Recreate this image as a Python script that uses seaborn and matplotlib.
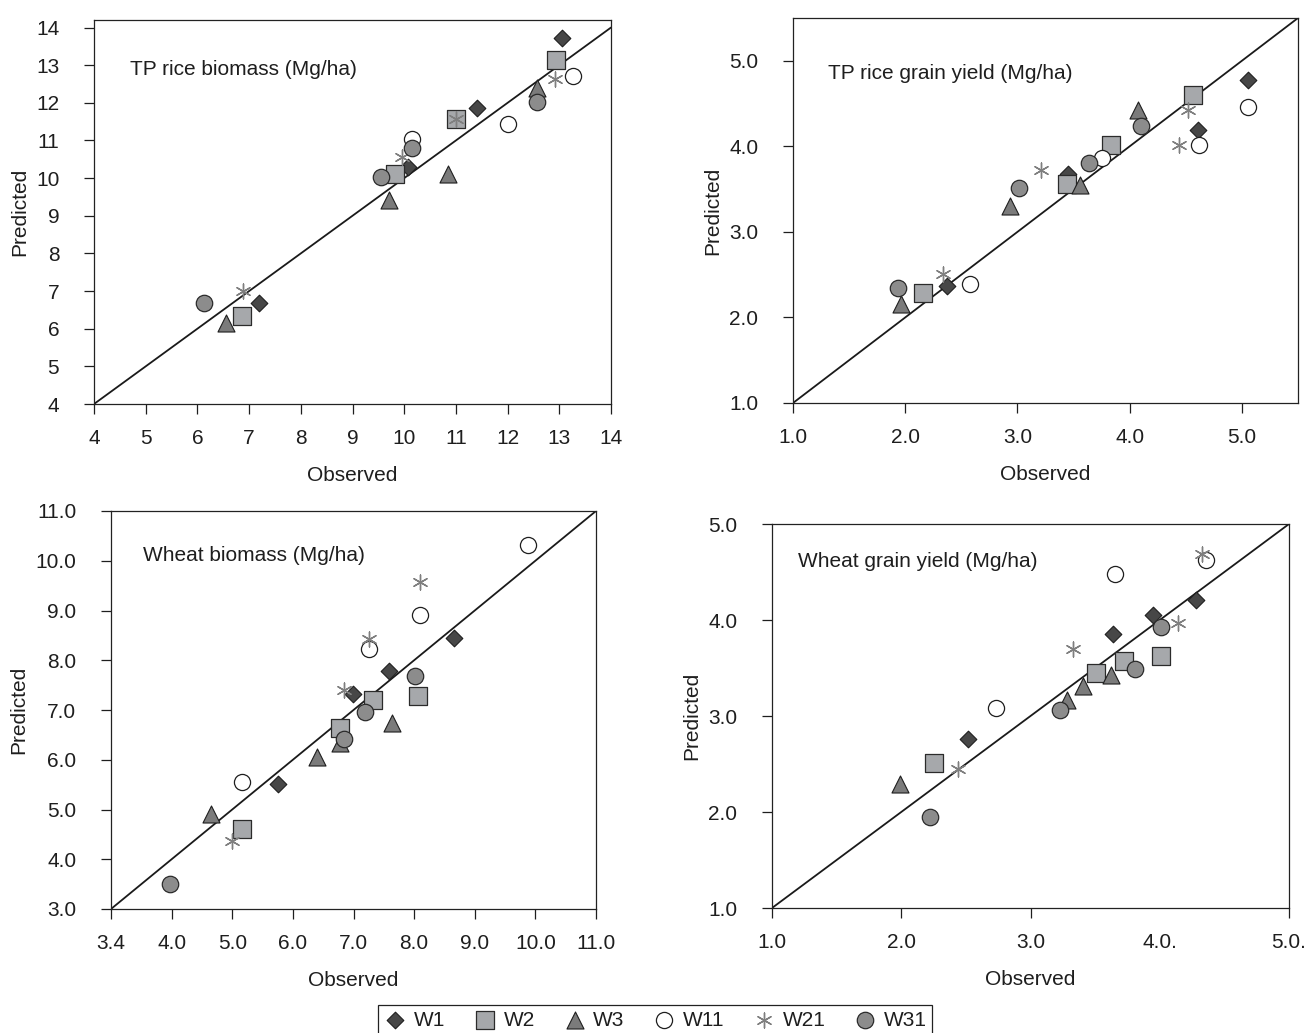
import pandas as pd
import seaborn as sns
from matplotlib import pyplot as plt

treatments = ["W1", "W2", "W3", "W11", "W21", "W31"]

# TP rice biomass (Mg/ha)
rb_trt = ["W1"] * 4 + ["W2"] * 4 + ["W3"] * 4 + ["W11"] * 3 + ["W21"] * 4 + ["W31"] * 4
rb_obs = [13.06, 11.40, 10.07, 7.19,
          12.93, 11.00, 9.82, 6.86,
          12.57, 10.84, 9.71, 6.55,
          13.27, 12.01, 10.16,
          12.92, 11.00, 9.95, 6.88,
          12.57, 10.16, 9.56, 6.13]
rb_pred = [13.73, 11.86, 10.30, 6.69,
           13.15, 11.57, 10.12, 6.35,
           12.40, 10.10, 9.41, 6.16,
           12.71, 11.44, 11.04,
           12.64, 11.57, 10.57, 7.00,
           12.01, 10.79, 10.03, 6.69]

# TP rice grain yield (Mg/ha)
rg_trt = ["W1"] * 4 + ["W2"] * 4 + ["W3"] * 4 + ["W11"] * 4 + ["W21"] * 4 + ["W31"] * 4
rg_obs = [5.05, 4.61, 3.45, 2.37,
          4.56, 3.83, 3.44, 2.16,
          4.07, 3.56, 2.93, 1.96,
          5.05, 4.62, 3.75, 2.58,
          4.52, 4.44, 3.21, 2.34,
          4.10, 3.64, 3.01, 1.94]
rg_pred = [4.78, 4.19, 3.68, 2.37,
           4.60, 4.02, 3.56, 2.29,
           4.42, 3.55, 3.30, 2.16,
           4.46, 4.01, 3.86, 2.39,
           4.43, 4.01, 3.72, 2.51,
           4.24, 3.81, 3.51, 2.35]

# Wheat biomass (Mg/ha)
wb_trt = ["W1"] * 4 + ["W2"] * 4 + ["W3"] * 4 + ["W11"] * 4 + ["W21"] * 4 + ["W31"] * 4
wb_obs = [8.65, 7.59, 6.99, 5.75,
          8.06, 7.32, 6.78, 5.16,
          7.64, 6.77, 6.40, 4.65,
          9.88, 8.09, 7.25, 5.16,
          8.09, 7.25, 6.84, 4.99,
          8.02, 7.19, 6.85, 3.98]
wb_pred = [8.45, 7.79, 7.32, 5.52,
           7.28, 7.20, 6.64, 4.61,
           6.73, 6.34, 6.06, 4.90,
           10.31, 8.91, 8.22, 5.55,
           9.57, 8.43, 7.41, 4.36,
           7.68, 6.96, 6.41, 3.51]

# Wheat grain yield (Mg/ha)
wg_trt = ["W1"] * 4 + ["W2"] * 4 + ["W3"] * 4 + ["W11"] * 3 + ["W21"] * 4 + ["W31"] * 4
wg_obs = [4.28, 3.95, 3.64, 2.52,
          4.01, 3.72, 3.51, 2.25,
          3.62, 3.41, 3.28, 1.99,
          4.36, 3.65, 2.73,
          4.33, 4.14, 3.33, 2.44,
          4.01, 3.81, 3.23, 2.22]
wg_pred = [4.21, 4.05, 3.85, 2.76,
           3.63, 3.57, 3.45, 2.51,
           3.43, 3.31, 3.17, 2.29,
           4.63, 4.48, 3.08,
           4.69, 3.97, 3.70, 2.45,
           3.93, 3.49, 3.06, 1.95]

# tick labels (as printed in the figure)
rb_ticks = list(range(4, 15))
rb_labels = [str(t) for t in rb_ticks]
rg_ticks = [1, 2, 3, 4, 5]
rg_labels = ["1.0", "2.0", "3.0", "4.0", "5.0"]
wb_ticks = list(range(3, 12))
wb_xlabels = ["3.4", "4.0", "5.0", "6.0", "7.0", "8.0", "9.0", "10.0", "11.0"]
wb_ylabels = ["3.0", "4.0", "5.0", "6.0", "7.0", "8.0", "9.0", "10.0", "11.0"]
wg_ticks = [1, 2, 3, 4, 5]
wg_xlabels = ["1.0", "2.0", "3.0", "4.0.", "5.0."]
wg_ylabels = ["1.0", "2.0", "3.0", "4.0", "5.0"]

styles = {
    "W1": dict(marker="D", s=72, color="#474747", edgecolor="#1e1e1e", linewidth=0.8),
    "W2": dict(marker="s", s=160, color="#a6a8ab", edgecolor="#2b2b2b", linewidth=0.9),
    "W3": dict(marker="^", s=150, color="#7b7b7b", edgecolor="#1e1e1e", linewidth=0.8),
    "W11": dict(marker="o", s=135, color="white", edgecolor="#1e1e1e", linewidth=0.9),
    "W21": dict(marker=(6, 2, 0), s=115, color="#7f7f7f", linewidth=1.0),
    "W31": dict(marker="o", s=140, color="#8c8c8c", edgecolor="#2b2b2b", linewidth=0.9),
}

sns.set_style("ticks")
plt.rcParams["font.family"] = ["Liberation Sans", "DejaVu Sans"]
plt.rcParams["text.color"] = "#1e1e1e"
plt.rcParams["axes.labelcolor"] = "#1e1e1e"
plt.rcParams["xtick.color"] = "#1e1e1e"
plt.rcParams["ytick.color"] = "#1e1e1e"

fig = plt.figure(figsize=(13.04, 10.33), dpi=100)


def panel(rect, obs, pred, trt, xlim, ylim, xticks, xlabels, yticks, ylabels, title, txy):
    ax = fig.add_axes(rect)
    df = pd.DataFrame({"Observed": obs, "Predicted": pred, "trt": trt})
    ax.axline((xlim[0], xlim[0]), slope=1, color="#1a1a1a", lw=1.3, zorder=1)
    for name in treatments:
        sub = df[df["trt"] == name]
        sns.scatterplot(data=sub, x="Observed", y="Predicted", ax=ax,
                        label=name, zorder=3, **styles[name])
    if ax.get_legend() is not None:
        ax.get_legend().remove()
    ax.set_xlim(xlim)
    ax.set_ylim(ylim)
    ax.set_xticks(xticks)
    ax.set_xticklabels(xlabels)
    ax.set_yticks(yticks)
    ax.set_yticklabels(ylabels)
    ax.tick_params(axis="both", direction="out", length=7, width=0.9, labelsize=15)
    ax.tick_params(axis="x", pad=11)
    ax.tick_params(axis="y", pad=18)
    ax.set_xlabel("Observed", fontsize=15, labelpad=13)
    ax.set_ylabel("Predicted", fontsize=15, labelpad=5)
    for sp in ax.spines.values():
        sp.set_visible(True)
        sp.set_linewidth(0.9)
        sp.set_color("#222222")
    ax.text(txy[0], txy[1], title, transform=ax.transAxes, fontsize=15,
            ha="left", va="center")
    return ax


W, H = 1304, 1033

ax1 = panel([94 / W, 1 - 404 / H, 517 / W, 384 / H], rb_obs, rb_pred, rb_trt,
            (4, 14), (4, 14.2), rb_ticks, rb_labels, rb_ticks, rb_labels,
            "TP rice biomass (Mg/ha)", (0.07, 0.872))
ax2 = panel([793 / W, 1 - 403 / H, 505 / W, 385 / H], rg_obs, rg_pred, rg_trt,
            (1, 5.5), (1, 5.5), rg_ticks, rg_labels, rg_ticks, rg_labels,
            "TP rice grain yield (Mg/ha)", (0.069, 0.857))
ax3 = panel([111 / W, 1 - 909 / H, 485 / W, 398 / H], wb_obs, wb_pred, wb_trt,
            (3, 11), (3, 11), wb_ticks, wb_xlabels, wb_ticks, wb_ylabels,
            "Wheat biomass (Mg/ha)", (0.066, 0.887))
ax4 = panel([772 / W, 1 - 908 / H, 517 / W, 384 / H], wg_obs, wg_pred, wg_trt,
            (1, 5), (1, 5), wg_ticks, wg_xlabels, wg_ticks, wg_ylabels,
            "Wheat grain yield (Mg/ha)", (0.05, 0.903))
# the 4.0 tick mark is missing in the original wheat grain panel
ax4.xaxis.get_major_ticks()[3].tick1line.set_visible(False)

handles, labels = ax1.get_legend_handles_labels()
leg = fig.legend(handles, labels, ncol=6, loc="center",
                 bbox_to_anchor=(655 / W, 1 - 1020 / H), fontsize=15,
                 frameon=True, fancybox=False, framealpha=1, edgecolor="#222222",
                 handletextpad=0.3, columnspacing=1.3, borderpad=0.25,
                 handlelength=1.2)
leg.get_frame().set_linewidth(0.9)

fig.savefig("out.png", dpi=100)
